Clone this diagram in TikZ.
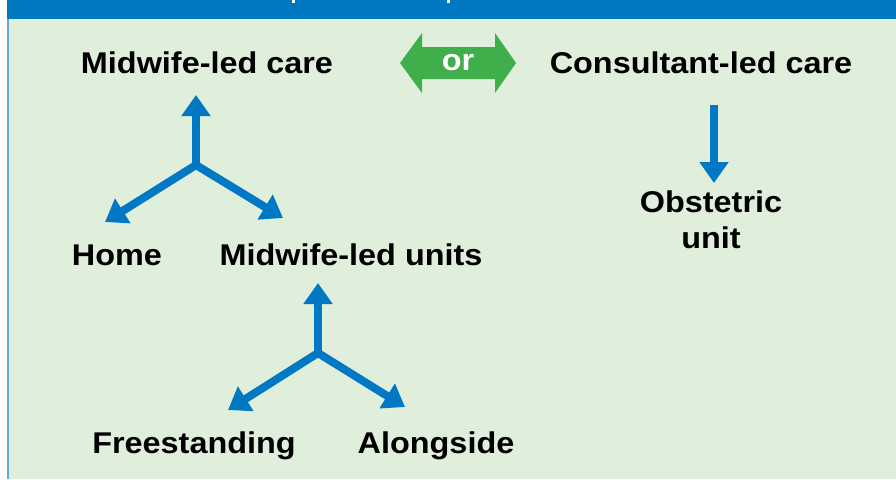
\documentclass[tikz,border=0pt]{standalone}
\usepackage{fontspec}
\setmainfont{Liberation Sans}[FakeStretch=1.08]
\usepackage{xcolor}
\usetikzlibrary{positioning,calc,arrows.meta}
\definecolor{barblue}{RGB}{0,120,193}
\definecolor{arrowblue}{RGB}{0,120,196}
\definecolor{edgeblue}{RGB}{95,168,216}
\definecolor{palegreen}{RGB}{224,239,219}
\definecolor{orgreen}{RGB}{64,174,74}

\begin{document}
\begin{tikzpicture}[x=1pt,y=-1pt,
    lbl/.style={anchor=base,inner sep=0pt,font=\fontsize{30}{36}\selectfont\bfseries},
    branch/.style={draw=arrowblue,line width=8pt,line join=miter},
    bigtip/.tip={Triangle[width=28pt,length=21pt]}]
    \useasboundingbox (0,0) rectangle (896,479);

    % panel and header bar
    \fill[white] (0,0) rectangle (896,479);
    \fill[palegreen] (9,19) rectangle (896,479);
    \fill[edgeblue] (7,19) rectangle (9,479);
    \fill[barblue] (7,0) rectangle (896,19);
    % bits of the cut title
    \fill[white] (292,0) rectangle (295,3);
    \fill[white] (447,0) rectangle (450,3);

    % top labels
    \node[lbl] (mlcare) at (207,73) {Midwife-led care};
    \node[lbl] (clcare) at (701,73) {Consultant-led care};

    % or arrow
    \fill[orgreen] (400,63) -- (422,33) -- (422,47) -- (495,47) -- (495,33)
        -- (516,63) -- (495,93) -- (495,79) -- (422,79) -- (422,93) -- cycle;
    \node[lbl,text=white] (ortext) at (458,70) {or};

    % first split
    \coordinate (J1) at (196,165); % centre of the split
    \coordinate (J1up) at (196,95);
    \coordinate (J1left) at (105,222);
    \coordinate (J1right) at (283,218);
    \draw[branch,bigtip-bigtip] (J1left) -- (J1) -- (J1right);
    \draw[branch,-bigtip] (J1) -- (J1up);

    \node[lbl] (home) at (117,265) {Home};
    \node[lbl] (mlunits) at (351,265) {Midwife-led units};

    % second split
    \coordinate (J2) at (318,353); % centre of the split
    \coordinate (J2up) at (318,283);
    \coordinate (J2left) at (228,410);
    \coordinate (J2right) at (405,407);
    \draw[branch,bigtip-bigtip] (J2left) -- (J2) -- (J2right);
    \draw[branch,-bigtip] (J2) -- (J2up);

    \node[lbl] (free) at (194,453) {Freestanding};
    \node[lbl] (along) at (436,453) {Alongside};

    % consultant-led branch
    \coordinate (C1) at (714,105);
    \coordinate (C1tip) at (714,183);
    \draw[branch,-bigtip] (C1) -- (C1tip);
    \node[lbl,align=center] (obst) at (711,248) {Obstetric\\unit}; % base is the last line

\end{tikzpicture}
\end{document}
